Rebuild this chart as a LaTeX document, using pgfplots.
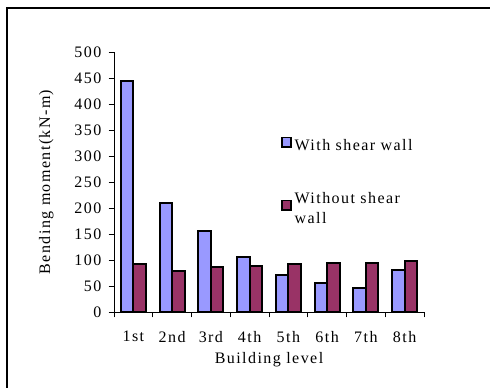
\documentclass[border=0pt]{standalone}
\usepackage{pgfplots}
\pgfplotsset{compat=1.18}
\usepackage{fontspec}
\setmainfont{Liberation Serif}[LetterSpace=9]

\definecolor{withwall}{HTML}{9999FF}
\definecolor{nowall}{HTML}{993366}

% square swatch used in the legend
\pgfplotsset{
  square legend/.style={
    legend image code/.code={%
      \draw[##1,/tikz/.cd,line width=1.2pt,yshift=-0.5pt] (0pt,0pt) rectangle (7pt,7pt);}},
}

\begin{document}
\begin{tikzpicture}
\useasboundingbox (0,0) rectangle (367.5pt,291pt);
% outer frame
\draw[line width=1.5pt] (5.25pt,-5pt) -- (5.25pt,285pt) -- (380pt,285pt);
\begin{axis}[
  at={(85.5pt,57pt)}, anchor=south west,
  scale only axis, width=232.5pt, height=195pt,
  font=\fontsize{12pt}{14.5pt}\selectfont,
  /pgf/number format/assume math mode=true,
  ybar, bar width=9.4pt,
  xmin=-0.5, xmax=7.5, ymin=0, ymax=500,
  axis lines=left, axis line style={-, black, line width=0.6pt},
  xtick={0,...,7},
  xticklabels={1st,2nd,3rd,4th,5th,6th,7th,8th},
  major x tick style={draw=none},
  minor xtick={-0.5,0.5,...,7.5},
  minor x tick style={black, line width=0.6pt},
  minor tick length=4pt,
  ytick={0,50,...,500},
  y tick style={black, line width=0.6pt},
  major tick length=4pt,
  tick align=outside,
  xticklabel style={yshift=-7pt},
  yticklabel style={xshift=-2pt},
  xlabel={Building level},
  xlabel style={at={(axis description cs:0.5,-0.185)}, anchor=center},
  ylabel={Bending moment(kN-m)},
  ylabel style={at={(axis description cs:-0.218,0.5)}, anchor=center},
  legend style={draw=none, fill=none, at={(axis description cs:0.525,0.685)}, anchor=north west,
    cells={align=left, anchor=west}, row sep=26pt, font=\fontsize{12pt}{14.5pt}\selectfont},
]
\addplot[fill=withwall, draw=black, line width=1.5pt, bar shift=-4.7pt, forget plot]
  coordinates {(0,445) (1,209) (2,156) (3,105) (4,72) (5,55) (6,47) (7,81)};
\addplot[fill=nowall, draw=black, line width=1.5pt, bar shift=4.7pt, forget plot]
  coordinates {(0,93) (1,79) (2,86) (3,88) (4,92) (5,94) (6,94) (7,98)};
\addlegendimage{square legend, fill=withwall, draw=black}
\addlegendentry{With shear wall}
\addlegendimage{square legend, fill=nowall, draw=black}
\addlegendentry{Without shear\\wall}
\end{axis}
\end{tikzpicture}
\end{document}
